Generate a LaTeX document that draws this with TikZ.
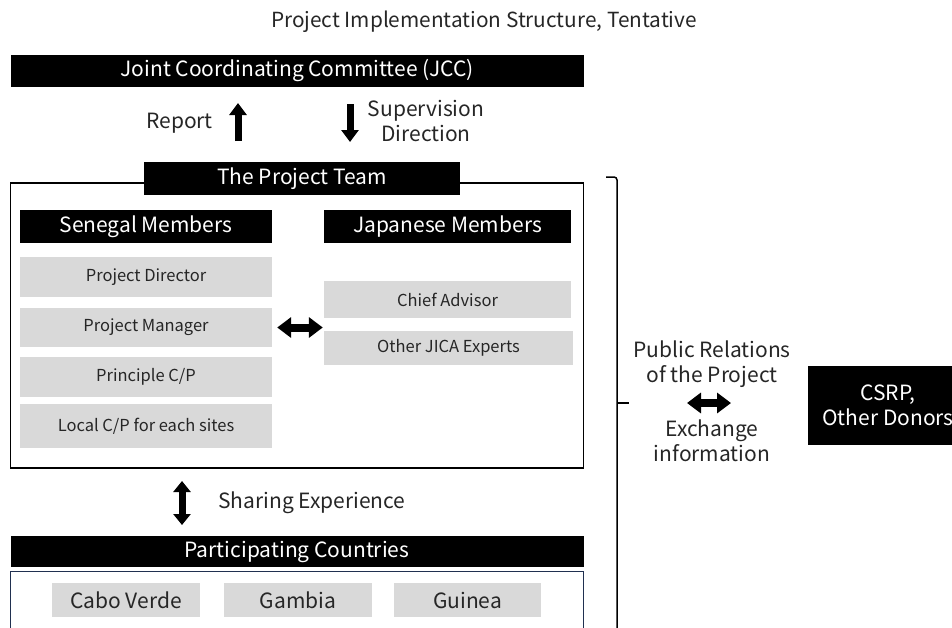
\documentclass[tikz,border=0pt]{standalone}
\usepackage{fontspec}
\setmainfont{Noto Sans CJK JP}
\usetikzlibrary{arrows.meta}
\definecolor{boxgray}{RGB}{217,217,217}
\definecolor{navy}{RGB}{32,48,80}
\begin{document}
\begin{tikzpicture}[x=1pt,y=-1pt,
  blackbar/.style={fill=black,text=white,inner sep=0pt,anchor=center,font=\fontsize{21}{25}\selectfont},
  graybox/.style={fill=boxgray,text=black!85,inner sep=0pt,anchor=center,font=\fontsize{16.5}{18}\selectfont},
  ctrybox/.style={fill=boxgray,text=black!85,inner sep=0pt,anchor=center,font=\fontsize{21}{24}\selectfont},
  lbl/.style={inner sep=0pt,anchor=center,align=center,text=black!85,font=\fontsize{21}{25}\selectfont},
  fatarrow/.style={line width=7pt,-{Triangle[width=17pt,length=12pt]}},
  fatdouble/.style={line width=8pt,{Triangle[width=20pt,length=14pt]}-{Triangle[width=20pt,length=14pt]}}
]
\useasboundingbox (0,0) rectangle (952,627);
% title
\node[lbl,font=\fontsize{20.8}{24}\selectfont] (title) at (484,22) {Project Implementation Structure, Tentative};
% JCC
\node[blackbar,minimum width=573pt,minimum height=32pt] (jcc) at (297,71) {Joint Coordinating Committee (JCC)};
% report / supervision
\node[lbl,anchor=east] (report) at (213,123) {Report};
\coordinate (upS) at (238,141);
\coordinate (upE) at (238,103);
\draw[fatarrow] (upS) -- (upE);
\coordinate (dnS) at (350,104);
\coordinate (dnE) at (350,142);
\draw[fatarrow] (dnS) -- (dnE);
\node[lbl] (sup) at (426,121) {Supervision\\Direction};
% project team box
\node[draw=black,line width=1.5pt,fill=none,inner sep=0pt,minimum width=573pt,minimum height=285pt] (teambox) at (297,325.5) {};
\node[blackbar,minimum width=316pt,minimum height=33pt] (team) at (302,178.5) {The Project Team};
\node[blackbar,minimum width=252pt,minimum height=33pt] (sen) at (146,226.5) {Senegal Members};
\node[blackbar,minimum width=247pt,minimum height=33pt] (jap) at (447.5,226.5) {Japanese Members};
\node[graybox,minimum width=252pt,minimum height=40pt] (pd) at (146,277) {Project Director};
\node[graybox,minimum width=252pt,minimum height=39pt] (pm) at (146,327.5) {Project Manager};
\node[graybox,minimum width=252pt,minimum height=40pt] (pcp) at (146,377) {Principle C/P};
\node[graybox,minimum width=252pt,minimum height=44pt] (lcp) at (146,426) {Local C/P for each sites};
\node[graybox,minimum width=247pt,minimum height=37pt] (ca) at (447.5,299.5) {Chief Advisor};
\node[graybox,minimum width=249pt,minimum height=34pt] (oje) at (448.5,348) {Other JICA Experts};
\draw[fatdouble] ([xshift=5pt]pm.east) -- ([xshift=-1pt]pm.east -| ca.west);
% sharing experience
\coordinate (shT) at (182,481);
\coordinate (shB) at (182,525);
\draw[line width=7pt,{Triangle[width=17pt,length=11pt]}-{Triangle[width=17pt,length=11pt]}] (shT) -- (shB);
\node[lbl,anchor=west] (share) at (218,503) {Sharing Experience};
% participating countries
\node[blackbar,minimum width=573pt,minimum height=31pt] (pc) at (297,551.5) {Participating Countries};
\draw[navy,line width=1pt] (10.7,640) -- (10.7,571) -- (583.5,571) -- (583.5,640);
\node[ctrybox,minimum width=148pt,minimum height=34pt] (cv) at (126,600) {Cabo Verde};
\node[ctrybox,minimum width=148pt,minimum height=34pt] (gm) at (298,600) {Gambia};
\node[ctrybox,minimum width=147pt,minimum height=34pt] (gn) at (467.5,600) {Guinea};
% bracket
\draw[line width=1.5pt] (606,177) -- (614,177) to[out=0,in=90] (617,180) -- (617,630);
\draw[line width=1.5pt] (617,403) -- (629,403);
% right side
\node[lbl] (pr) at (712,364) {Public Relations\\of the Project};
\draw[fatdouble] (687,403) -- (731,403);
\node[lbl] (ex) at (712,441) {Exchange\\information};
\node[blackbar,minimum width=160pt,minimum height=79pt,align=center] (csrp) at (888,405.5) {CSRP,\\Other Donors};
\end{tikzpicture}
\end{document}
